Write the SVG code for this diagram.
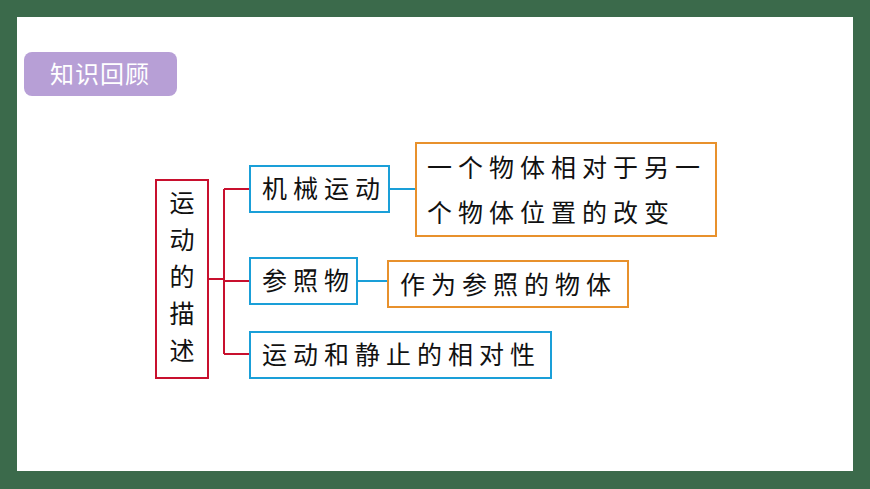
<svg xmlns="http://www.w3.org/2000/svg" width="870" height="489" viewBox="0 0 870 489">
<style>
text{font-family:"Noto Sans CJK SC","Noto Sans",sans-serif;font-size:25px;fill:#111;letter-spacing:6px}
.red{fill:#fff;stroke:#c8102e;stroke-width:2}
.blue{fill:#fff;stroke:#1a9fd8;stroke-width:2}
.org{fill:#fff;stroke:#e8912c;stroke-width:2}
.lr{stroke:#c8102e;stroke-width:2;fill:none}
.lb{stroke:#1a9fd8;stroke-width:2;fill:none}
</style>
<rect width="870" height="489" fill="#3b6a4b"/>
<rect x="17" y="17" width="836" height="454" fill="#fff"/>
<g id="title"><rect x="24" y="52" width="153" height="44" rx="8" fill="#b79fd6"/><text x="100" y="83" text-anchor="middle" style="fill:#fff;font-size:24px;letter-spacing:1px">知识回顾</text></g>
<g id="connectors">
<path class="lr" d="M208 279H224M224 189V354M224 189H250M224 281H250M224 354H250"/>
<path class="lb" d="M389 189H416M357 281H388"/>
</g>
<g id="root"><rect class="red" x="156" y="180" width="52" height="198"/>
<text x="182" y="212" text-anchor="middle" style="letter-spacing:0">运</text>
<text x="182" y="249" text-anchor="middle" style="letter-spacing:0">动</text>
<text x="182" y="286" text-anchor="middle" style="letter-spacing:0">的</text>
<text x="182" y="323" text-anchor="middle" style="letter-spacing:0">描</text>
<text x="182" y="360" text-anchor="middle" style="letter-spacing:0">述</text></g>
<g id="n1"><rect class="blue" x="250" y="166" width="139" height="46"/><text x="262" y="198">机械运动</text></g>
<g id="n2"><rect class="blue" x="250" y="258" width="107" height="46"/><text x="262" y="290">参照物</text></g>
<g id="n3"><rect class="blue" x="250" y="332" width="301" height="46"/><text x="262" y="364">运动和静止的相对性</text></g>
<g id="d1"><rect class="org" x="416" y="143" width="300" height="93"/><text x="427" y="177">一个物体相对于另一</text><text x="427" y="222">个物体位置的改变</text></g>
<g id="d2"><rect class="org" x="388" y="261" width="240" height="46"/><text x="400" y="294">作为参照的物体</text></g>
</svg>
